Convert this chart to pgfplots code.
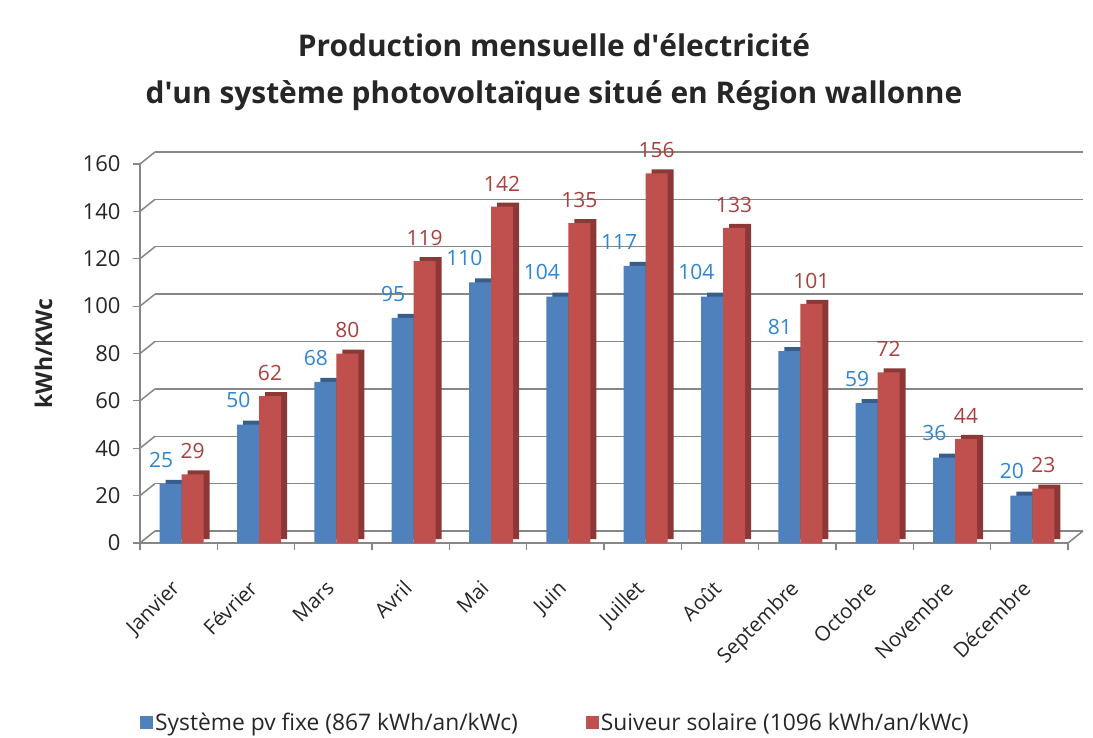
\documentclass[border=0pt]{standalone}
\usepackage{pgfplots}
\pgfplotsset{compat=1.18}
\usepackage{fontspec}
\setmainfont{Open Sans}
\definecolor{bluef}{HTML}{4F81BD}
\definecolor{blued}{HTML}{385D8A}
\definecolor{redf}{HTML}{C0504D}
\definecolor{redd}{HTML}{8C3836}
\definecolor{bluelab}{HTML}{2F86D3}
\definecolor{redlab}{HTML}{A8413F}
\definecolor{gridc}{HTML}{878787}
\definecolor{txt}{HTML}{262626}
\begin{document}
\begin{tikzpicture}
\useasboundingbox[fill=white] (0pt,0pt) rectangle (1093pt,737pt);
\node[font=\fontsize{29.9}{47}\selectfont\bfseries, align=center, text=txt] at (554pt,665pt) {Production mensuelle d\textquotesingle électricité\\d\textquotesingle un système photovoltaïque situé en Région wallonne};
\begin{axis}[
  at={(140pt,194pt)}, anchor=south west, scale only axis,
  width=928pt, height=379pt,
  xmin=-0.5, xmax=11.5, ymin=0, ymax=160,
  ybar, bar width=22pt, clip=false,
  axis x line*=bottom, axis y line*=left,
  axis line style={draw=gridc, line width=1.2pt, -},
  ytick={0,20,...,160},
  tick align=outside,
  major tick length=7pt,
  ytick style={draw=gridc, line width=1.2pt},
  xtick={0,...,11},
  xticklabels={Janvier,Février,Mars,Avril,Mai,Juin,Juillet,Août,Septembre,Octobre,Novembre,Décembre},
  major x tick style={draw=none},
  minor xtick={-0.5,0.5,...,11.5},
  minor x tick style={draw=gridc, line width=1.2pt},
  minor tick length=7pt,
  ymajorgrids,
  major grid style={draw=gridc, line width=1.5pt, xshift=15pt, yshift=12pt},
  yticklabel style={font=\fontsize{22}{26}\selectfont, text=txt, xshift=-9pt},
  xticklabel style={font=\fontsize{20.5}{24}\selectfont, text=txt, xshift=-8.5pt, yshift=-24pt, rotate=45, anchor=north east},
  /pgf/number format/assume math mode=true,
  ylabel={kWh/KWc},
  ylabel style={font=\fontsize{23}{27}\selectfont\bfseries, text=txt, at={(axis description cs:-0.104,0.50)}, anchor=center},
  legend style={at={(axis description cs:0.0,-0.474)}, anchor=west, draw=none, fill=none, legend columns=2,
    font=\fontsize{22.8}{26}\selectfont, text=txt, inner sep=0pt,
    /tikz/every even column/.append style={column sep=66pt}},
  legend image code/.code={\fill[#1] (0pt,-6.5pt) rectangle (13pt,6.5pt);},
]
\addplot[fill=blued, draw=none, bar shift=-8pt, xshift=6pt, yshift=4pt, forget plot] coordinates {(0,25) (1,50) (2,68) (3,95) (4,110) (5,104) (6,117) (7,104) (8,81) (9,59) (10,36) (11,20)};
\addplot[fill=bluef, draw=none, bar shift=-8pt,
  nodes near coords, nodes near coords style={font=\fontsize{21}{25}\selectfont, text=bluelab, anchor=south east, xshift=6pt, yshift=13pt}]
  coordinates {(0,25) (1,50) (2,68) (3,95) (4,110) (5,104) (6,117) (7,104) (8,81) (9,59) (10,36) (11,20)};
\addlegendentry{Système pv fixe (867 kWh/an/kWc)}
\addplot[fill=redd, draw=none, bar shift=14pt, xshift=6pt, yshift=4pt, forget plot] coordinates {(0,29) (1,62) (2,80) (3,119) (4,142) (5,135) (6,156) (7,133) (8,101) (9,72) (10,44) (11,23)};
\addplot[fill=redf, draw=none, bar shift=14pt,
  nodes near coords, nodes near coords style={font=\fontsize{21}{25}\selectfont, text=redlab, anchor=south, yshift=12pt}]
  coordinates {(0,29) (1,62) (2,80) (3,119) (4,142) (5,135) (6,156) (7,133) (8,101) (9,72) (10,44) (11,23)};
\addlegendentry{Suiveur solaire (1096 kWh/an/kWc)}
\pgfplotsinvokeforeach{0,20,...,160}{
  \draw[gridc, line width=1.5pt] (axis cs:-0.5,#1) -- ++(15pt,12pt);
}
\draw[gridc, line width=1.5pt] (axis cs:11.5,0) -- ++(15pt,12pt);
\end{axis}
\end{tikzpicture}
\end{document}
